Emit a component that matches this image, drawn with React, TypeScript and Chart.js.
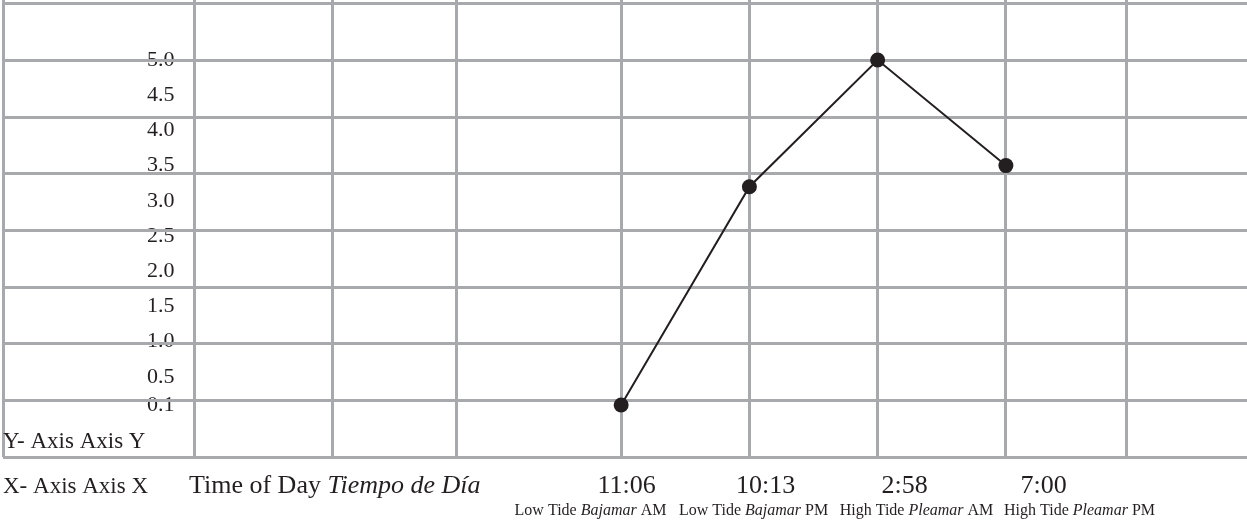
import React, { useEffect, useRef } from 'react';
import { Chart, registerables } from 'chart.js';

Chart.register(...registerables);

// ---- data ----
const times = ['11:06', '10:13', '2:58', '7:00'];
const tideEn = ['Low Tide', 'Low Tide', 'High Tide', 'High Tide'];
const tideEs = ['Bajamar', 'Bajamar', 'Pleamar', 'Pleamar'];
const tideAmPm = ['AM', 'PM', 'AM', 'PM'];
const tideHeights = [0.1, 3.2, 5.0, 3.5];
const yTickValues = [0.1, 0.5, 1.0, 1.5, 2.0, 2.5, 3.0, 3.5, 4.0, 4.5, 5.0];
const yAxisTitle = 'Y- Axis Axis Y';
const xAxisTitle = 'X- Axis Axis X';
const timeTitleEn = 'Time of Day ';
const timeTitleEs = 'Tiempo de Día';

// ---- worksheet table grid (x in category-index units) ----
const tableColumnEdges = [-4.82, -3.33, -2.25, -1.28, 0, 1, 2, 3, 3.94];
const tableRows = 8;

const ink = '#231f20';
const gridColor = '#a8a9ac';
const serif = '"Liberation Serif", "Times New Roman", "DejaVu Serif", serif';

const bottomText = {
  id: 'bottomText',
  afterDraw(chart: any) {
    const { ctx, chartArea, scales } = chart;
    const xs = scales.x;
    ctx.save();
    ctx.fillStyle = ink;
    ctx.textBaseline = 'alphabetic';

    // y-axis title inside the bottom-left cell
    ctx.textAlign = 'left';
    ctx.font = `23px ${serif}`;
    ctx.fillText(yAxisTitle, chartArea.left, chartArea.bottom - 9);

    // x-axis titles row
    const rowY = chartArea.bottom + 36;
    ctx.fillText(xAxisTitle, chartArea.left, rowY);
    ctx.font = `26px ${serif}`;
    const tx = 189;
    ctx.fillText(timeTitleEn, tx, rowY);
    const w1 = ctx.measureText(timeTitleEn).width;
    ctx.font = `italic 26px ${serif}`;
    ctx.fillText(timeTitleEs, tx + w1, rowY);

    // time labels and tide sublabels
    const first = xs.getPixelForValue(0);
    const last = xs.getPixelForValue(times.length - 1);
    const mid = (first + last) / 2 + 21.5;
    const n = times.length;
    for (let i = 0; i < n; i++) {
      const tcx = mid + (i - (n - 1) / 2) * 139;
      ctx.textAlign = 'center';
      ctx.font = `26px ${serif}`;
      ctx.fillText(times[i], tcx, rowY);

      const scx = mid + (i - (n - 1) / 2) * 163;
      const segs = [
        { t: tideEn[i] + ' ', f: `16px ${serif}` },
        { t: tideEs[i], f: `italic 16px ${serif}` },
        { t: ' ' + tideAmPm[i], f: `16px ${serif}` },
      ];
      let total = 0;
      const widths = segs.map((s) => {
        ctx.font = s.f;
        const w = ctx.measureText(s.t).width;
        total += w;
        return w;
      });
      let sx = scx - total / 2;
      ctx.textAlign = 'left';
      segs.forEach((s, k) => {
        ctx.font = s.f;
        ctx.fillText(s.t, sx, rowY + 22);
        sx += widths[k];
      });
    }
    ctx.restore();
  },
};

export default function App() {
  const ref = useRef<HTMLCanvasElement | null>(null);

  useEffect(() => {
    if (!ref.current) return;
    const chart = new Chart(ref.current, {
      type: 'line',
      data: {
        labels: times,
        datasets: [
          {
            label: 'Tide',
            data: tideHeights.map((v, i) => ({ x: i, y: v })),
            borderColor: ink,
            backgroundColor: ink,
            borderWidth: 2,
            tension: 0,
            pointRadius: 7.5,
            pointBackgroundColor: ink,
            pointBorderWidth: 0,
            clip: false,
          },
        ],
      },
      plugins: [bottomText],
      options: {
        animation: false,
        responsive: true,
        maintainAspectRatio: false,
        layout: { autoPadding: false, padding: { left: 3, right: 0, top: 0, bottom: 64 } },
        plugins: {
          legend: { display: false },
          tooltip: { enabled: false },
          title: { display: false },
        },
        scales: {
          x: {
            type: 'linear',
            min: -4.82,
            max: 4.88,
            afterBuildTicks: (scale: any) => {
              scale.ticks = tableColumnEdges.map((v) => ({ value: v }));
            },
            ticks: { display: false },
            grid: { color: gridColor, lineWidth: 3, drawTicks: false },
            border: { display: false },
          },
          y: {
            type: 'linear',
            position: 'left',
            min: -0.639,
            max: 5.852,
            afterBuildTicks: (scale: any) => {
              scale.ticks = yTickValues.map((v) => ({ value: v }));
            },
            afterFit: (scale: any) => {
              scale.width = 0;
              scale.paddingTop = 0;
              scale.paddingBottom = 0;
              scale.paddingLeft = 0;
              scale.paddingRight = 0;
            },
            ticks: {
              mirror: true,
              crossAlign: 'far',
              padding: 144,
              autoSkip: false,
              z: -1,
              color: ink,
              font: { family: serif, size: 22 },
              callback: (v: any) => Number(v).toFixed(1),
            },
            grid: { display: false, drawTicks: false },
            border: { display: false },
          },
          tableY: {
            type: 'linear',
            position: 'right',
            min: 0,
            max: tableRows + 0.07,
            ticks: { display: false, stepSize: 1, includeBounds: false },
            grid: { color: gridColor, lineWidth: 3, drawTicks: false },
            border: { display: false },
          },
        },
      } as any,
    });
    return () => chart.destroy();
  }, []);

  return (
    <div style={{ position: 'fixed', left: 0, top: 0, width: 1247, height: 521, background: '#fff' }}>
      <canvas ref={ref} />
    </div>
  );
}
